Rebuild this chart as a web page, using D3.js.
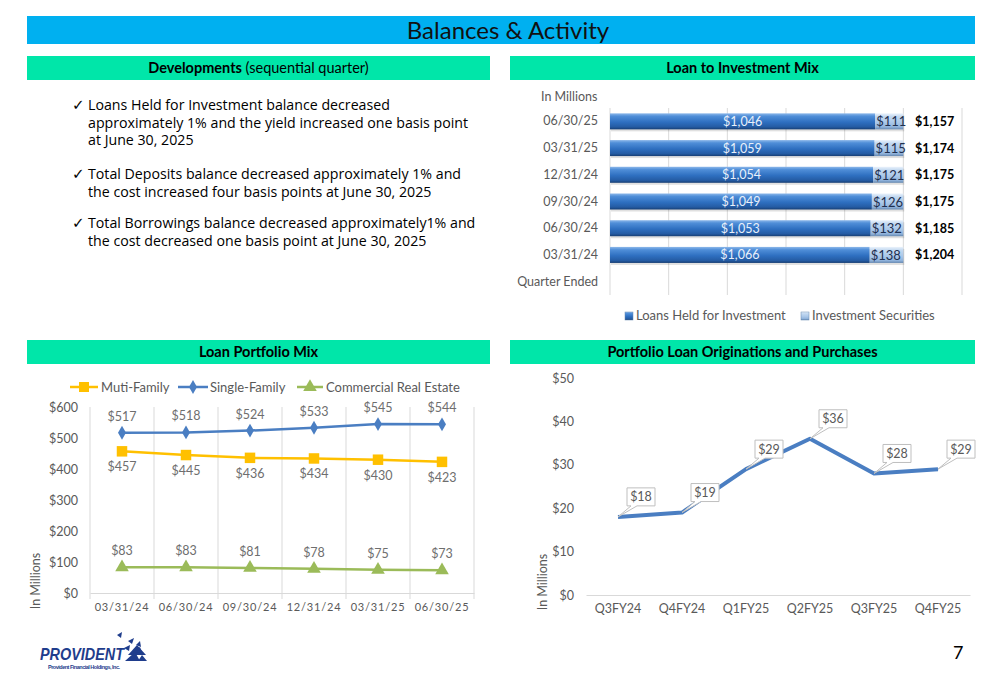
<!DOCTYPE html>
<html><head><meta charset="utf-8">
<script src="https://cdn.jsdelivr.net/npm/d3@7"></script>
<style>
html,body{margin:0;padding:0;background:#fff;}
svg{display:block;}
</style></head>
<body>
<svg id="c" width="1000" height="685"></svg>
<script>
// ---------- DATA ----------
const bulletItems = [
  ["Loans Held for Investment balance decreased", "approximately 1% and the yield increased one basis point", "at June 30, 2025"],
  ["Total Deposits balance decreased approximately 1% and", "the cost increased four basis points at June 30, 2025"],
  ["Total Borrowings balance decreased approximately1% and", "the cost decreased one basis point at June 30, 2025"]
];
const barCats = ["03/31/24","06/30/24","09/30/24","12/31/24","03/31/25","06/30/25"];
const loansHeld = [1066,1053,1049,1054,1059,1046];
const securities = [138,132,126,121,115,111];
const barTotals = [1204,1185,1175,1175,1174,1157];
const barLegend = ["Loans Held for Investment","Investment Securities"];

const mixCats = ["03/31/24","06/30/24","09/30/24","12/31/24","03/31/25","06/30/25"];
const multiFamily = [457,445,436,434,430,423];
const singleFamily = [517,518,524,533,545,544];
const commercialRE = [83,83,81,78,75,73];
const mixTicks = [0,100,200,300,400,500,600];
const mixLegend = ["Muti-Family","Single-Family","Commercial Real Estate"];

const origCats = ["Q3FY24","Q4FY24","Q1FY25","Q2FY25","Q3FY25","Q4FY25"];
const originations = [18,19,29,36,28,29];
const origTicks = [0,10,20,30,40,50];

// ---------- SETUP ----------
const svg = d3.select("#c");
const F = "Lato, 'Open Sans', sans-serif";
const gray = "#595959";
const fmt = d3.format(",");
const defs = svg.append("defs");
function grad(id, stops){
  const g = defs.append("linearGradient").attr("id",id).attr("x1",0).attr("x2",0).attr("y1",0).attr("y2",1);
  stops.forEach(s=>g.append("stop").attr("offset",s[0]).attr("stop-color",s[1]));
}
grad("gLoan",[[0,"#8DB8EA"],[0.18,"#4F8ED8"],[0.55,"#2E6FC0"],[0.85,"#245BA3"],[1,"#173E73"]]);
grad("gSec",[[0,"#EAF2FB"],[0.2,"#C3D9F1"],[0.6,"#A8C6E8"],[0.85,"#8FB2DB"],[1,"#6688B0"]]);

// ---------- TITLE & HEADERS ----------
svg.append("rect").attr("x",27).attr("y",16).attr("width",948).attr("height",28).attr("fill","#00B0F0");
svg.append("text").attr("x",508).attr("y",39).attr("text-anchor","middle").attr("font-family",F)
  .attr("font-size",24).attr("fill","#111").text("Balances & Activity");

const hdrColor = "#00E6A9";
function header(x,w,y,parts){
  svg.append("rect").attr("x",x).attr("y",y).attr("width",w).attr("height",24).attr("fill",hdrColor);
  const t = svg.append("text").attr("x",x+w/2).attr("y",y+17).attr("text-anchor","middle")
    .attr("font-family",F).attr("font-size",14.5).attr("fill","#000");
  parts.forEach(p=>t.append("tspan").attr("font-weight",p[1]?"bold":"normal").text(p[0]));
}
header(27,463,56,[["Developments",true],[" (sequential quarter)",false]]);
header(510,465,56,[["Loan to Investment Mix",true]]);
header(27,463,340,[["Loan Portfolio Mix",true]]);
header(510,465,340,[["Portfolio Loan Originations and Purchases",true]]);

// ---------- BULLETS ----------
const bulletTop = [110,179,228];
bulletItems.forEach((lines,i)=>{
  svg.append("text").attr("x",72).attr("y",bulletTop[i]).attr("font-family","'DejaVu Sans'")
    .attr("font-size",15).attr("fill","#000").text("\u2713");
  lines.forEach((l,j)=>{
    svg.append("text").attr("x",88).attr("y",bulletTop[i]+j*17.5).attr("font-family","'Open Sans', sans-serif")
      .attr("font-size",14.2).attr("fill","#000").text(l);
  });
});

// ---------- BAR CHART ----------
(function(){
  const cats = barCats.slice().reverse().concat(["Quarter Ended"]);
  const y = d3.scaleBand().domain(cats).range([108,295]).paddingInner(0.4).paddingOuter(0.2);
  const x = d3.scaleLinear().domain([0,1.2]).range([610,962]);
  const g = svg.append("g");
  g.selectAll("line.grid").data(d3.range(0,1.21,0.2)).join("line")
    .attr("x1",d=>x(d)).attr("x2",d=>x(d)).attr("y1",108).attr("y2",295)
    .attr("stroke","#D9D9D9").attr("stroke-width",1);
  g.append("text").attr("x",541).attr("y",101).attr("font-family",F).attr("font-size",12.5).attr("fill",gray).text("In Millions");
  const yAxis = d3.axisLeft(y).tickSize(0).tickPadding(12);
  const ax = g.append("g").attr("transform","translate(610,0)").call(yAxis);
  ax.select(".domain").remove();
  ax.selectAll("text").attr("font-family",F).attr("font-size",12.5).attr("fill",gray);
  const rows = barCats.map((c,i)=>({c, l:loansHeld[i], s:securities[i], t:barTotals[i]}));
  rows.forEach(r=>{
    const yy = y(r.c), h = y.bandwidth();
    const xl = x(r.l/r.t), xe = x(1);
    g.append("rect").attr("x",x(0)+1).attr("y",yy+2).attr("width",xe-x(0)).attr("height",h).attr("fill","#000").attr("opacity",0.12);
    g.append("rect").attr("x",x(0)).attr("y",yy).attr("width",xl-x(0)).attr("height",h).attr("fill","url(#gLoan)");
    g.append("rect").attr("x",xl).attr("y",yy).attr("width",xe-xl).attr("height",h).attr("fill","url(#gSec)");
    g.append("text").attr("x",(x(0)+xl)/2).attr("y",yy+h/2+4.5).attr("text-anchor","middle")
      .attr("font-family",F).attr("font-size",12.5).attr("fill","#E8F0FA").text("$"+fmt(r.l));
    g.append("text").attr("x",xl+1).attr("y",yy+h/2+5).attr("font-family",F).attr("font-size",13)
      .attr("fill","#1F2F4F").text("$"+fmt(r.s));
    g.append("text").attr("x",915).attr("y",yy+h/2+4.5).attr("font-family",F).attr("font-size",12.5)
      .attr("font-weight","bold").attr("fill","#000").text("$"+fmt(r.t));
  });
  // legend
  const lg = [{x:625,f:"url(#gLoan)",t:barLegend[0]},{x:801,f:"url(#gSec)",t:barLegend[1]}];
  lg.forEach(d=>{
    g.append("rect").attr("x",d.x).attr("y",312).attr("width",8).attr("height",8).attr("fill",d.f).attr("stroke","#6688B0").attr("stroke-width",0.5);
    g.append("text").attr("x",d.x+11).attr("y",320).attr("font-family",F).attr("font-size",13).attr("fill",gray).text(d.t);
  });
})();

// ---------- LOAN PORTFOLIO MIX ----------
(function(){
  const x = d3.scaleBand().domain(mixCats).range([90,474]);
  const y = d3.scaleLinear().domain([0,600]).range([593,407]);
  const g = svg.append("g");
  g.selectAll("line.vg").data(mixCats.slice(1)).join("line")
    .attr("x1",d=>x(d)).attr("x2",d=>x(d)).attr("y1",407).attr("y2",599).attr("stroke","#D9D9D9");
  g.append("line").attr("x1",90).attr("x2",90).attr("y1",407).attr("y2",599).attr("stroke","#D9D9D9");
  g.append("line").attr("x1",474).attr("x2",474).attr("y1",407).attr("y2",599).attr("stroke","#D9D9D9");
  const yA = g.append("g").attr("transform","translate(90,0)").call(d3.axisLeft(y).tickValues(mixTicks).tickSize(0).tickPadding(12).tickFormat(d=>"$"+d));
  yA.select(".domain").remove();
  yA.selectAll("text").attr("font-family",F).attr("font-size",12.5).attr("fill",gray);
  const xA = g.append("g").attr("transform","translate(0,593)").call(d3.axisBottom(x).tickSize(0).tickPadding(10));
  xA.select(".domain").attr("stroke","#D9D9D9");
  xA.selectAll("text").attr("font-family",F).attr("font-size",11).attr("letter-spacing","0.8px").attr("fill",gray);
  g.append("text").attr("transform","translate(40,581) rotate(-90)").attr("text-anchor","middle")
    .attr("font-family",F).attr("font-size",12.5).attr("fill",gray).text("In Millions");

  const cx = d=>x(d)+x.bandwidth()/2;
  const series = [
    {v:multiFamily, c:"#FFC000", m:"square", off:20},
    {v:singleFamily, c:"#4A7EC2", m:"diamond", off:-12},
    {v:commercialRE, c:"#9BBB59", m:"triangle", off:-12}
  ];
  const line = d3.line().x((d,i)=>cx(mixCats[i])).y(d=>y(d));
  series.forEach(s=>{
    g.append("path").attr("d",line(s.v)).attr("fill","none").attr("stroke",s.c).attr("stroke-width",2.5);
    const sym = s.m==="square"? d3.symbol(d3.symbolSquare,110) : s.m==="diamond"? d3.symbol(d3.symbolDiamond,55) : d3.symbol(d3.symbolTriangle,80);
    g.selectAll(null).data(s.v).join("path").attr("d",sym)
      .attr("transform",(d,i)=>`translate(${cx(mixCats[i])},${y(d)})`).attr("fill",s.c);
    g.selectAll(null).data(s.v).join("text")
      .attr("x",(d,i)=>cx(mixCats[i])).attr("y",d=>y(d)+s.off)
      .attr("text-anchor","middle").attr("font-family",F).attr("font-size",12.5).attr("fill","#6E6E6E")
      .text(d=>"$"+d);
  });
  // legend
  const lg = [{x1:70,x2:98,c:"#FFC000",m:d3.symbol(d3.symbolSquare,100),tx:101,t:mixLegend[0]},
              {x1:178,x2:208,c:"#4A7EC2",m:d3.symbol(d3.symbolDiamond,55),tx:210,t:mixLegend[1]},
              {x1:297,x2:323,c:"#9BBB59",m:d3.symbol(d3.symbolTriangle,80),tx:326,t:mixLegend[2]}];
  lg.forEach(d=>{
    g.append("line").attr("x1",d.x1).attr("x2",d.x2).attr("y1",387).attr("y2",387).attr("stroke",d.c).attr("stroke-width",2.5);
    g.append("path").attr("d",d.m).attr("transform",`translate(${(d.x1+d.x2)/2},387)`).attr("fill",d.c);
    g.append("text").attr("x",d.tx).attr("y",391.5).attr("font-family",F).attr("font-size",13).attr("fill",gray).text(d.t);
  });
})();

// ---------- ORIGINATIONS ----------
(function(){
  const x = d3.scaleBand().domain(origCats).range([586,970]);
  const y = d3.scaleLinear().domain([0,50]).range([595,378]);
  const g = svg.append("g");
  const yA = g.append("g").attr("transform","translate(586,0)").call(d3.axisLeft(y).tickValues(origTicks).tickSize(0).tickPadding(12).tickFormat(d=>"$"+d));
  yA.select(".domain").remove();
  yA.selectAll("text").attr("font-family",F).attr("font-size",12.5).attr("fill",gray);
  const xA = g.append("g").attr("transform","translate(0,595)").call(d3.axisBottom(x).tickSize(0).tickPadding(9));
  xA.select(".domain").attr("stroke","#D9D9D9");
  xA.selectAll("text").attr("font-family",F).attr("font-size",12.5).attr("fill",gray);
  g.append("text").attr("transform","translate(547,582) rotate(-90)").attr("text-anchor","middle")
    .attr("font-family",F).attr("font-size",12.5).attr("fill",gray).text("In Millions");
  const cx = d=>x(d)+x.bandwidth()/2;
  const line = d3.line().x((d,i)=>cx(origCats[i])).y(d=>y(d));
  g.append("path").attr("d",line(originations)).attr("fill","none").attr("stroke","#4A7EC2").attr("stroke-width",4).attr("stroke-linejoin","round");
  originations.forEach((v,i)=>{
    const px = cx(origCats[i]), py = y(v);
    const bx = px+9, bw = 28, bh = 18, by = py-11-bh;
    const p = `M${bx},${by} H${bx+bw} V${by+bh} H${bx+10} L${px},${py} L${bx+4},${by+bh} H${bx} Z`;
    g.append("path").attr("d",p).attr("fill","#fff").attr("stroke","#BFBFBF").attr("stroke-width",1);
    g.append("text").attr("x",bx+bw/2).attr("y",by+13.5).attr("text-anchor","middle")
      .attr("font-family",F).attr("font-size",12.5).attr("fill",gray).text("$"+v);
  });
})();

// ---------- LOGO & PAGE ----------
(function(){
  const g = svg.append("g");
  g.append("text").attr("x",40).attr("y",660).attr("font-family","'Liberation Sans', Arial").attr("font-weight","bold")
    .attr("font-style","italic").attr("font-size",17).attr("textLength",84).attr("lengthAdjust","spacingAndGlyphs")
    .attr("fill","#1F3D8C").text("PROVIDENT");
  g.append("text").attr("x",48).attr("y",669).attr("font-family","'Liberation Sans', Arial").attr("font-weight","bold")
    .attr("font-size",5.5).attr("textLength",72).attr("fill","#1F3D8C").text("Provident Financial Holdings, Inc.");
  const tris = [[117,635,122,632,121,638],[128,641,134,638,132,644],[124,648,130,645,129,651],[128,655,146,655,137,645],[133,652,140,647,142,653],[136,645,140,641,141,647],[125,661,135,652,140,661],[138,661,142,655,147,661]];
  tris.forEach(t=>g.append("polygon").attr("points",`${t[0]},${t[1]} ${t[2]},${t[3]} ${t[4]},${t[5]}`).attr("fill","#1F3D8C"));
  svg.append("text").attr("x",953).attr("y",659).attr("font-family",F).attr("font-size",18).attr("fill","#000").text("7");
})();
</script>
</body></html>
